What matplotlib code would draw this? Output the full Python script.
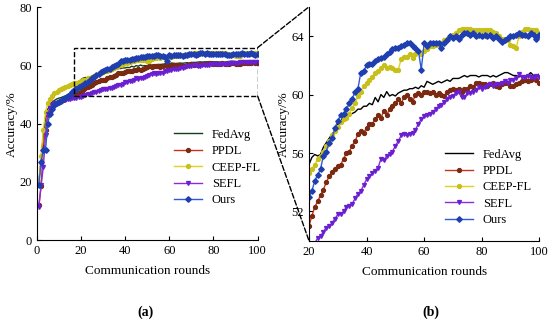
import matplotlib
import numpy as np

matplotlib.use("Agg")
from matplotlib import pyplot as plt
from matplotlib.patches import ConnectionPatch, Rectangle

rounds = np.arange(1, 101)

fedavg = [
    20, 28, 36, 42, 45, 46.5, 47.5, 48, 48.5, 48.8,
    49, 49.3, 49.6, 50, 50.5, 51, 52, 53, 54, 55.2,
    55.7, 55.9, 55.8, 55.9, 56.4, 56.7, 57.0, 57.3, 57.5, 58.0,
    58.2, 58.4, 58.6, 58.6, 58.7, 58.8, 59.0, 59.0, 59.2, 59.2,
    59.4, 59.3, 59.8, 59.5, 60.0, 59.8, 60.2, 59.9, 60.0, 59.9,
    60.1, 60.2, 60.3, 60.3, 60.4, 60.4, 60.5, 60.4, 60.6, 60.5,
    60.9, 60.8, 60.7, 60.8, 60.9, 60.8, 60.9, 61.0, 60.9, 61.1,
    61.1, 61.1, 61.2, 61.3, 61.2, 61.3, 61.3, 61.3, 61.2, 61.3,
    61.3, 61.3, 61.2, 61.3, 61.2, 61.3, 61.4, 61.5, 61.5, 61.4,
    61.3, 61.3, 61.2, 61.3, 61.2, 61.3, 61.5, 61.3, 61.3, 61.4,
]
ppdl = [
    12, 18.5, 32, 38, 43, 44, 45.5, 46.5, 47, 47.5,
    48, 48.3, 48.6, 49, 49.3, 49.6, 50, 50.3, 50.7, 51.0,
    51.7, 52.3, 52.7, 53.1, 53.5, 54.0, 54.4, 54.7, 54.9, 55.1,
    55.2, 55.6, 56.0, 56.1, 56.5, 56.8, 57.3, 57.5, 57.4, 57.7,
    58.0, 58.0, 58.3, 58.6, 58.4, 58.9, 58.6, 59.0, 59.2, 59.4,
    59.7, 59.4, 59.8, 60.0, 59.7, 59.5, 60.0, 60.1, 60.0, 60.2,
    60.2, 60.1, 60.2, 60.0, 60.1, 60.0, 59.9, 60.2, 60.3, 60.4,
    60.3, 60.4, 60.2, 60.4, 60.4, 60.6, 60.5, 60.8, 60.8, 60.7,
    60.7, 60.6, 60.7, 60.8, 60.6, 60.5, 60.7, 60.8, 60.8, 60.6,
    60.6, 60.7, 60.8, 60.9, 61.0, 60.9, 61.0, 61.1, 61.0, 60.8,
]
ceep_fl = [
    20, 29, 38, 44, 47, 48.5, 49.5, 50.5, 51, 51.5,
    52, 52.3, 52.6, 53, 53.3, 53.6, 53.9, 54.1, 54.4, 54.6,
    54.9, 55.2, 55.6, 55.8, 56.1, 56.5, 56.8, 57.2, 57.5, 57.8,
    58.1, 58.3, 58.4, 58.7, 59.1, 59.4, 59.9, 60.2, 60.6, 60.8,
    61.0, 61.2, 61.5, 61.6, 61.8, 62.0, 61.8, 61.9, 61.8, 61.7,
    61.7, 62.4, 62.6, 62.6, 62.8, 62.5, 62.8, 63.0, 62.8, 63.0,
    63.1, 63.3, 63.3, 63.4, 63.5, 63.5, 63.7, 63.8, 64.0, 64.1,
    64.2, 64.4, 64.5, 64.5, 64.5, 64.5, 64.4, 64.4, 64.4, 64.4,
    64.4, 64.4, 64.4, 64.3, 64.2, 64.0, 63.8, 63.8, 63.7, 63.4,
    63.3, 63.2, 64.0, 64.3, 64.5, 64.5, 64.4, 64.4, 64.4, 64.2,
]
sefl = [
    11.5, 19, 25, 36, 43.5, 45.5, 46.5, 47, 47.3, 47.6,
    47.9, 48.1, 48.3, 48.5, 48.6, 48.8, 48.9, 49.0, 49.1, 49.2,
    49.5, 49.8, 50.2, 50.3, 50.6, 50.9, 51.0, 51.2, 51.5, 51.8,
    51.8, 52.0, 52.3, 52.4, 52.5, 52.9, 53.2, 53.4, 53.8, 54.2,
    54.4, 54.6, 54.8, 55.0, 55.6, 55.5, 55.8, 55.9, 56.1, 56.5,
    56.8, 57.2, 57.3, 57.2, 57.3, 57.4, 57.6, 58.0, 58.3, 58.5,
    58.6, 58.7, 58.8, 59.0, 59.2, 59.3, 59.5, 59.7, 59.8, 59.9,
    60.1, 60.2, 59.8, 59.8, 60.1, 60.1, 60.2, 60.3, 60.5, 60.4,
    60.5, 60.6, 60.7, 60.6, 60.7, 60.7, 60.8, 60.9, 60.8, 61.0,
    61.0, 61.1, 61.4, 61.2, 61.2, 61.3, 61.2, 61.1, 61.3, 61.2,
]
ours = [
    19, 27, 31, 31, 40, 43.5, 45, 46.5, 47, 47.5,
    48, 48.5, 49, 49.5, 50, 50.8, 51.5, 52, 52.5, 53.0,
    53.4, 54.1, 54.5, 54.9, 55.8, 56.1, 56.7, 57.0, 57.7, 58.2,
    58.6, 58.7, 59.0, 59.4, 59.7, 60.2, 60.4, 61.5, 61.6, 62.0,
    62.1, 62.1, 62.3, 62.4, 62.5, 62.6, 62.8, 62.9, 63.1, 63.2,
    63.2, 63.3, 63.4, 63.5, 63.5, 63.3, 63.2, 63.0, 61.7, 63.5,
    63.3, 63.5, 63.5, 63.5, 63.5, 63.2, 63.5, 63.7, 64.0, 63.9,
    64.0, 63.8, 64.1, 64.2, 64.2, 64.1, 64.2, 64.0, 64.1, 64.0,
    64.1, 64.0, 64.1, 63.9, 64.0, 63.8, 63.6, 63.7, 63.9, 64.0,
    64.0, 64.1, 64.2, 64.1, 64.1, 64.0, 64.2, 64.1, 63.8, 64.1,
]

labels = ("FedAvg", "PPDL", "CEEP-FL", "SEFL", "Ours")
colors = ("#000000", "#c8321e", "#e0d21e", "#8a2be2", "#2e5ad8")
marker_colors = ("#000000", "#7a2a10", "#c8c01a", "#6a1fd0", "#1f3fb0")
markers = (None, "o", "o", "v", "D")
series = (fedavg, ppdl, ceep_fl, sefl, ours)

plt.rcParams["font.family"] = ["Liberation Serif", "DejaVu Serif"]
plt.rcParams["font.size"] = 9

figure = plt.figure(figsize=(5.5, 3.24), dpi=100)
left = figure.add_axes([0.0667, 0.259, 0.4018, 0.718])
right = figure.add_axes([0.5618, 0.257, 0.4187, 0.722])


def draw(axis, x_min, line_colors):
    mask = rounds >= x_min
    for values, label, color, mcolor, marker in zip(
        series, labels, line_colors, marker_colors, markers, strict=True
    ):
        y = np.asarray(values)
        axis.plot(
            rounds[mask],
            y[mask],
            color=color,
            linewidth=1.0,
            marker=marker,
            markersize=2.8,
            markerfacecolor=mcolor,
            markeredgecolor=mcolor,
            label=label,
        )
    for side in ("top", "right"):
        axis.spines[side].set_visible(False)
    axis.tick_params(direction="in", length=3, labelsize=9)
    axis.set_xlabel("Communication rounds", fontsize=9.5, labelpad=6)
    axis.set_ylabel("Accuracy/%", fontsize=9.5)


left_colors = ("#123d1e",) + colors[1:]
draw(left, 0, left_colors)
left.set_xlim(0, 100)
left.set_ylim(0, 80)
left.set_xticks(range(0, 101, 20))
left.set_yticks(range(0, 81, 20))
left.legend(
    frameon=False, loc="upper left", bbox_to_anchor=(0.6, 0.5),
    handlelength=2.2, labelspacing=0.35, fontsize=9, borderaxespad=0,
)
left.yaxis.set_label_coords(-0.085, 0.5)

draw(right, 20, colors)
right.set_xlim(20, 100)
right.set_ylim(50, 66)
right.set_xticks(range(20, 101, 20))
right.set_yticks([52, 56, 60, 64])
right.legend(
    frameon=False, loc="upper left", bbox_to_anchor=(0.57, 0.415),
    handlelength=2.2, labelspacing=0.35, fontsize=9, borderaxespad=0,
)
right.yaxis.set_label_coords(-0.083, 0.5)

# zoom box on the left and the two guide lines
left.add_patch(
    Rectangle((17, 49.5), 83, 16.7, fill=False, linestyle="--",
              linewidth=1.0, edgecolor="black", zorder=5)
)
for y_left, y_right in ((66.2, 66), (49.5, 50)):
    figure.add_artist(
        ConnectionPatch(
            xyA=(100, y_left), coordsA=left.transData,
            xyB=(20, y_right), coordsB=right.transData,
            linestyle="--", linewidth=1.0, color="black",
        )
    )

figure.text(0.264, 0.025, "(a)", fontsize=10, fontweight="bold", ha="center")
figure.text(0.784, 0.025, "(b)", fontsize=10, fontweight="bold", ha="center")

figure.savefig("out.png", dpi=100)
plt.close(figure)
